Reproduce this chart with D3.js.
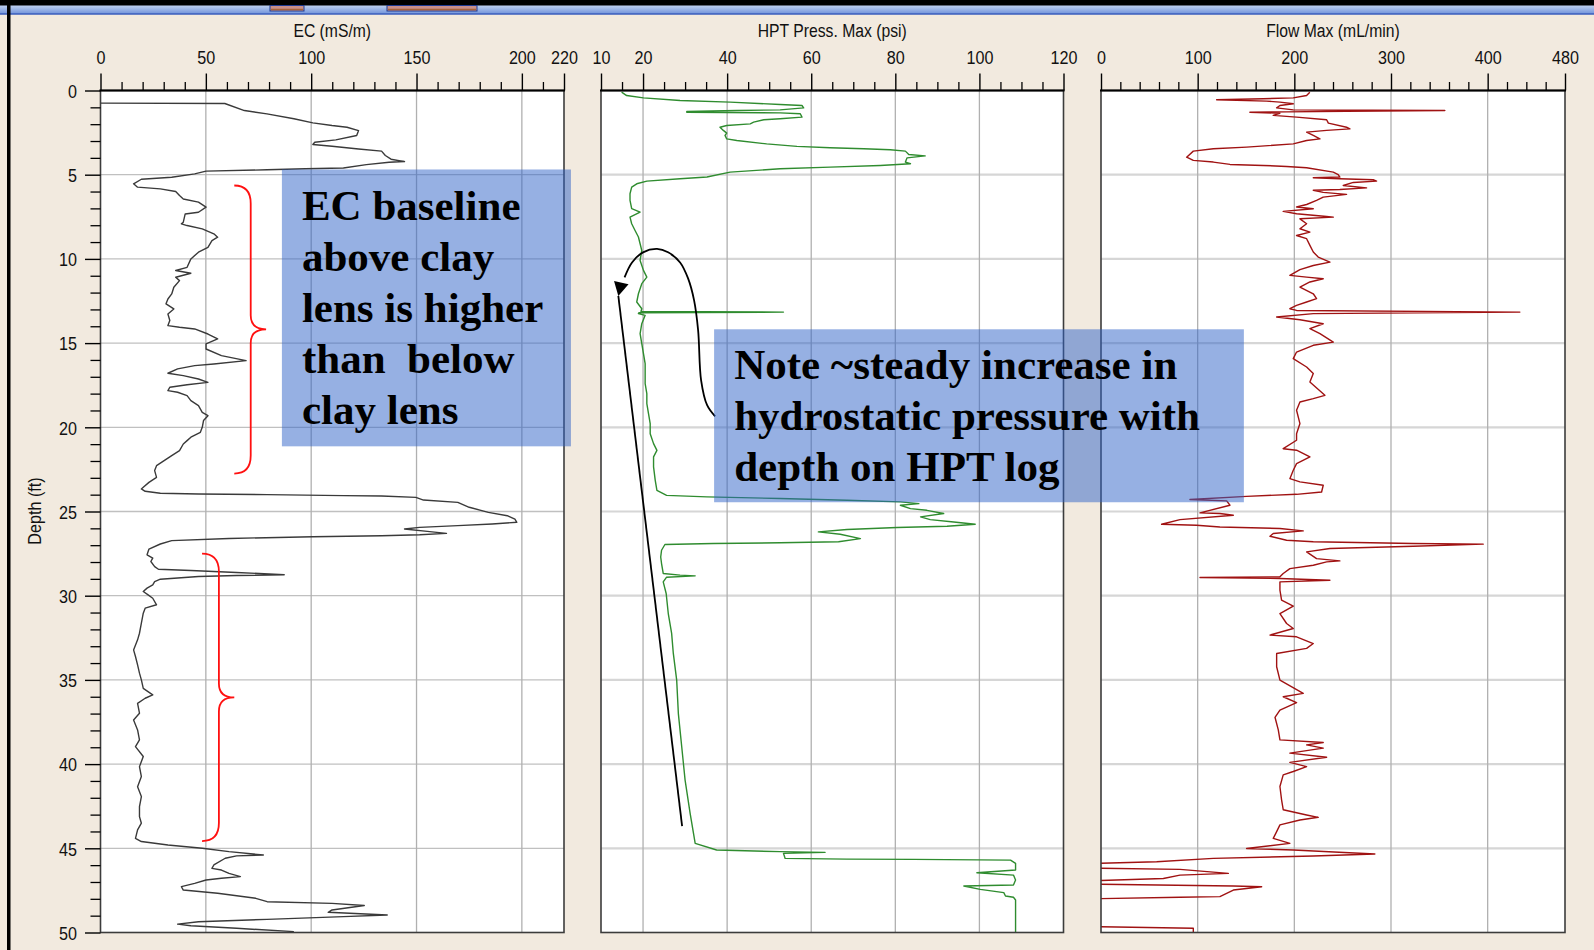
<!DOCTYPE html>
<html><head><meta charset="utf-8">
<script src="https://cdn.jsdelivr.net/npm/d3@7"></script>
<style>html,body{margin:0;padding:0;background:#F2EADF;overflow:hidden}</style>
</head><body>
<svg id="chart" width="1594" height="950"></svg>
<script>
// ---------------- DATA ----------------
const depthTicks = [0,5,10,15,20,25,30,35,40,45,50];
const ecTicks = [0,50,100,150,200,220];
const hptTicks = [10,20,40,60,80,100,120];
const flowTicks = [0,100,200,300,400,480];
const titles = ["EC (mS/m)","HPT Press. Max (psi)","Flow Max (mL/min)"];

// [depth ft, EC mS/m]
const ecProfile = [[0.75,0],[0.77,59],[1.19,68.3],[1.39,79],[1.68,91.8],[1.92,100.8],[2.08,109.9],[2.18,117],[2.38,122.5],[2.67,121.6],[2.93,111.7],[3.07,101.7],[3.21,100.8],[3.31,109.9],[3.47,122.5],[3.6,133.4],[3.86,135.2],[4.08,137.9],[4.22,144.3],[4.26,137],[4.4,126.2],[4.6,115.3],[4.65,97.2],[4.71,79.1],[4.79,50.1],[4.95,44.7],[5.15,33.8],[5.27,19.4],[5.54,15.7],[5.74,17.6],[5.84,28.4],[6.0,35.7],[6.24,37.5],[6.44,39.3],[6.63,46.5],[6.93,50.1],[7.23,46.5],[7.33,40.2],[7.82,39.3],[7.92,38.4],[8.02,41.1],[8.22,48.3],[8.51,53.8],[8.71,55.6],[8.91,52.9],[9.31,51],[9.6,46.5],[10.0,42.9],[10.5,41.1],[10.69,35.7],[10.85,42.9],[11.09,35.7],[11.29,37.5],[11.68,34.8],[12.08,33.8],[12.38,32],[12.67,31.1],[12.97,34.8],[13.27,32],[13.66,32.9],[13.96,32],[14.06,37.5],[14.16,44.7],[14.46,51],[14.75,55.6],[15.05,50.1],[15.35,50.1],[15.74,57.4],[16.04,69.1],[16.24,53.8],[16.34,44.7],[16.53,36.6],[16.79,32],[16.93,39.3],[17.13,46.5],[17.33,51],[17.47,41.1],[17.62,32.9],[17.82,32],[17.92,36.6],[18.12,41.1],[18.42,42.9],[18.71,46.5],[19.11,48.3],[19.31,51],[19.6,48.9],[20.0,48.3],[20.3,47.4],[20.59,42.9],[20.79,41.1],[20.99,39.3],[21.39,37.5],[21.68,33.8],[21.98,30.2],[22.28,26.6],[22.57,25.7],[22.97,26.6],[23.27,23],[23.56,20.3],[23.66,19.4],[23.8,21.2],[23.92,28.4],[23.96,46.5],[24.0,79.1],[24.06,115.3],[24.08,133.4],[24.16,149.7],[24.32,153.3],[24.46,169.6],[24.75,175],[25.05,184.1],[25.25,193.1],[25.45,196.7],[25.64,197.6],[25.74,185.9],[25.84,169.6],[25.94,151.5],[26.04,144.3],[26.18,155.1],[26.3,164.2],[26.38,151.5],[26.44,133.4],[26.5,100.8],[26.6,61],[26.73,33.8],[26.93,28.4],[27.23,23],[27.57,22.1],[27.77,24.8],[27.97,23.9],[28.27,25.7],[28.43,27.5],[28.5,42.9],[28.62,64.6],[28.76,87.2],[28.8,64.6],[28.86,46.5],[29.02,28.4],[29.16,25.7],[29.36,24.8],[29.55,22.1],[29.75,20.3],[29.95,22.6],[30.15,24.8],[30.54,26.6],[30.74,21.2],[31.04,20.3],[31.63,19.4],[32.23,18.5],[32.62,17.6],[33.22,15.7],[33.61,16.6],[34.11,17.6],[34.6,18.5],[35.0,19.4],[35.5,20.3],[35.89,24.8],[36.09,21.2],[36.39,17.6],[36.98,18.5],[37.38,15.7],[37.97,17.6],[38.56,18.5],[38.96,16.6],[39.55,20.3],[40.15,18.5],[40.74,19.4],[41.34,17.6],[41.93,19.4],[42.52,18.5],[43.12,18.5],[43.51,19.4],[43.91,17.6],[44.41,16.6],[44.6,19.4],[44.8,32],[45.0,48.3],[45.2,61],[45.4,77.3],[45.45,64.6],[45.59,59.2],[45.99,53.8],[46.19,52.9],[46.29,57.4],[46.49,61],[46.68,66.4],[46.78,57.4],[46.88,50.1],[47.08,44.7],[47.28,38.4],[47.48,39.3],[47.67,55.6],[47.97,73.7],[48.17,79.1],[48.27,109.9],[48.4,125.2],[48.66,109.9],[48.8,108.1],[48.96,136.1],[49.06,115.3],[49.22,79.1],[49.36,46.5],[49.5,36.6],[49.6,42.9],[49.75,64.6],[49.95,91.8]];

// [depth ft, HPT pressure psi]
const hptProfile = [[0.1,14.9],[0.3,16.1],[0.44,20.1],[0.59,28.8],[0.69,40.7],[0.83,52.6],[0.89,57.8],[1.03,58.2],[1.15,52.6],[1.19,42.3],[1.25,30.4],[1.29,30.4],[1.33,52.6],[1.38,57.4],[1.58,57.8],[1.68,52.6],[1.74,48.7],[1.88,46.3],[1.98,45.5],[2.08,39.9],[2.18,38.3],[2.37,39.1],[2.53,39.9],[2.67,39.5],[2.87,39.9],[2.97,42.3],[3.17,49.4],[3.32,56.6],[3.4,64.5],[3.46,72.5],[3.52,78.8],[3.6,82.4],[3.8,83.2],[3.88,87.1],[4.0,82.8],[4.25,82.4],[4.35,83.6],[4.45,76.4],[4.55,64.5],[4.65,52.6],[4.85,40.7],[5.14,35.2],[5.24,28.8],[5.38,20.9],[5.54,18.5],[5.74,17.3],[6.13,16.9],[6.53,16.9],[7.02,17.3],[7.22,19.3],[7.52,16.9],[7.91,17.3],[8.31,18.1],[8.7,18.9],[9.1,19.3],[9.5,19.7],[10.09,19.3],[10.68,20.1],[11.08,20.9],[11.47,19.7],[12.07,18.9],[12.56,18.5],[12.96,19.7],[13.12,19.5],[13.16,53.4],[13.2,19],[13.25,18.9],[13.35,20.5],[13.85,19.7],[14.44,19.3],[15.03,19.7],[15.63,20.1],[16.22,20.5],[16.81,20.5],[17.41,20.5],[18.0,20.9],[18.6,20.9],[19.19,21.3],[19.78,21.7],[20.38,21.7],[20.97,22.5],[21.37,23.3],[21.76,22.5],[22.35,22.5],[23.15,22.9],[23.74,23.3],[24.04,25.6],[24.13,35.2],[24.23,52.6],[24.33,68.5],[24.43,81.2],[24.53,85.6],[24.63,81.2],[24.83,83.6],[24.93,87.5],[25.12,91.5],[25.32,86],[25.48,88.3],[25.62,93.9],[25.76,99],[25.88,92.3],[25.95,80.4],[26.07,68.5],[26.21,61.7],[26.35,66.9],[26.61,71.7],[26.8,66.5],[26.86,52.6],[26.9,36.7],[26.96,25.2],[27.3,24.4],[27.7,24.2],[28.09,24.4],[28.68,24.8],[28.78,28.8],[28.82,32.4],[28.9,25.6],[29.18,24.8],[29.87,25.5],[31.06,26],[32.24,26.8],[33.43,27.2],[35.01,28],[37.0,28.4],[38.97,29.2],[40.95,30],[42.93,31.2],[44.12,32],[44.71,32.4],[45.1,37.5],[45.2,52.6],[45.24,63.3],[45.3,53.4],[45.6,53.8],[45.64,68.5],[45.66,84.4],[45.7,107.4],[45.9,108.6],[46.29,108.6],[46.45,99.4],[46.59,108.1],[46.88,108.6],[47.18,108.1],[47.24,96.3],[47.44,100.2],[47.63,105.8],[47.83,106.2],[47.91,108.1],[48.07,108.6],[50.0,108.6]];

// [depth ft, flow mL/min]  (negative = off-scale left)
const flowProfile = [[0.1,216],[0.3,212.7],[0.44,198.9],[0.49,167.9],[0.55,119.6],[0.63,171.3],[0.69,185.1],[0.79,198.9],[0.89,185.1],[1.03,181.7],[1.15,198.9],[1.19,355.7],[1.23,254],[1.27,192],[1.29,154],[1.35,185],[1.48,178.2],[1.58,202.3],[1.74,233.4],[1.94,235.2],[2.18,254],[2.28,257.5],[2.37,233.4],[2.47,212.7],[2.67,219.6],[2.87,226.5],[2.97,212.7],[3.17,198.9],[3.36,150.6],[3.46,116.2],[3.6,95.5],[3.96,88.6],[4.15,95.5],[4.25,116.2],[4.39,133.4],[4.45,167.9],[4.51,192],[4.59,212.7],[4.85,240.3],[4.99,245.4],[5.14,247.1],[5.18,219.6],[5.24,247.1],[5.3,281.6],[5.38,285.1],[5.46,261],[5.64,250.6],[5.78,274.7],[5.88,247.1],[5.92,219.6],[6.05,229.9],[6.17,254],[6.33,229.9],[6.53,223],[6.77,212.7],[6.92,202.3],[7.02,219.6],[7.18,188.5],[7.32,202.3],[7.48,233.4],[7.52,240.3],[7.62,205.8],[7.91,212.7],[8.21,205.8],[8.41,216.1],[8.61,202.3],[8.8,212.7],[9.2,216.1],[9.59,219.6],[9.89,224.7],[10.19,236.8],[10.39,219.6],[10.64,205.8],[10.98,195.4],[11.08,212.7],[11.18,229.9],[11.37,216.1],[11.67,205.8],[12.07,219.6],[12.36,223],[12.56,212.7],[12.76,202.3],[12.96,195.4],[13.06,202.3],[13.16,433.3],[13.25,219.6],[13.45,181.7],[13.61,205.8],[13.85,229.9],[14.14,216.1],[14.44,226.5],[14.94,240.3],[15.13,219.6],[15.53,202.3],[15.92,198.9],[16.42,212.7],[16.81,219.6],[17.31,216.1],[18.1,231.6],[18.3,219.6],[18.5,205.8],[18.99,202.3],[19.78,205.8],[20.38,202.3],[20.77,202.3],[21.27,188.5],[21.36,202.3],[21.76,216.1],[22.16,202.3],[22.55,198.9],[23.05,195.4],[23.24,205.8],[23.44,229.9],[23.84,228.2],[23.98,202.3],[24.1,150.6],[24.29,92],[24.37,130],[24.63,133.4],[25.08,102.4],[25.12,123],[25.22,136.9],[25.48,81.7],[25.76,62.7],[25.82,98.9],[25.92,123],[26.01,185.1],[26.15,209.2],[26.31,178.2],[26.47,174.8],[26.71,192],[26.8,219.6],[26.9,323],[26.94,395.4],[27.06,323],[27.2,236.8],[27.4,212.7],[27.8,223],[27.93,247.1],[27.99,233.4],[28.19,219.6],[28.39,195.4],[28.68,188.5],[28.88,185.1],[28.92,102.4],[28.98,185.1],[29.08,236.8],[29.18,185.1],[29.67,185.1],[30.26,186.8],[30.62,198.9],[31.06,185.1],[31.65,192],[31.95,198.9],[32.34,174.8],[32.44,202.3],[32.84,219.6],[33.13,212.7],[33.43,181.7],[34.22,181.7],[35.01,185.1],[35.8,209.2],[36.0,188.5],[36.35,202.3],[36.79,185.1],[37.22,180],[37.97,183.4],[38.56,185.1],[38.72,229.9],[38.86,212.7],[39.05,229.9],[39.35,195.4],[39.59,233.4],[39.9,195.4],[40.15,212.7],[40.44,198.9],[40.64,188.5],[41.33,185.1],[42.12,186.8],[42.71,188.5],[43.02,212.7],[43.16,224.7],[43.32,205.8],[43.61,185.1],[44.01,181.7],[44.41,178.2],[44.71,195.4],[45.01,150.6],[45.1,198.9],[45.34,283.3],[45.46,219.6],[45.6,116.2],[45.8,57.6],[45.95,-40],[46.15,-40],[46.25,81.7],[46.49,131.7],[46.59,81.7],[46.79,64.5],[46.99,-40],[47.1,-40],[47.24,136.9],[47.28,166.2],[47.48,136.9],[47.87,123],[47.91,81.7],[48.03,-40],[49.62,-40],[49.75,95.5],[50,95.5]];

// annotations (text)
const noteEC = ["EC baseline","above clay","lens is higher","than  below","clay lens"];
const noteHPT = ["Note ~steady increase in","hydrostatic pressure with","depth on HPT log"];

// ---------------- LAYOUT ----------------
const svg = d3.select("#chart");
const W = 1594, H = 950;
const y = d3.scaleLinear().domain([0,50]).range([90.5,932.5]);

const panels = [
  {key:"ec",   title:titles[0], ticks:ecTicks,   minor:10, x:d3.scaleLinear().domain([0,220]).range([100.5,564]),  data:ecProfile,   color:"#3a3a3a", hgrid:"#c0c0c0", hw:1.3},
  {key:"hpt",  title:titles[1], ticks:hptTicks,  minor:5,  x:d3.scaleLinear().domain([10,120]).range([601,1063.5]), data:hptProfile,  color:"#2f8c2f", hgrid:"#d6d6d6", hw:2.2},
  {key:"flow", title:titles[2], ticks:flowTicks, minor:20, x:d3.scaleLinear().domain([0,480]).range([1101,1565]),  data:flowProfile, color:"#a01212", hgrid:"#d6d6d6", hw:2.2}
];

// background & window chrome
svg.append("rect").attr("width",W).attr("height",H).attr("fill","#F2EADF");
const grad = svg.append("defs").append("linearGradient").attr("id","bluebar").attr("x1",0).attr("x2",0).attr("y1",0).attr("y2",1);
grad.append("stop").attr("offset","0%").attr("stop-color","#c4d4f2");
grad.append("stop").attr("offset","100%").attr("stop-color","#6f92da");
svg.append("rect").attr("x",0).attr("y",5).attr("width",W).attr("height",9).attr("fill","url(#bluebar)");
svg.append("line").attr("x1",0).attr("x2",W).attr("y1",14).attr("y2",14).attr("stroke","#3a5cbc").attr("stroke-width",1.5);
svg.append("rect").attr("x",0).attr("y",0).attr("width",W).attr("height",5.5).attr("fill","#000");
[[270,304],[387,477]].forEach(t=>{
  svg.append("rect").attr("x",t[0]).attr("y",5.5).attr("width",t[1]-t[0]).attr("height",5.5)
    .attr("fill","#c98f8a").attr("stroke","#1d3a94").attr("stroke-width",1);
  svg.append("line").attr("x1",t[0]+1).attr("x2",t[1]-1).attr("y1",9.5).attr("y2",9.5).attr("stroke","#a8643c").attr("stroke-width",1.5);
});
svg.append("rect").attr("x",7).attr("y",0).attr("width",3.5).attr("height",H).attr("fill","#000");

const defs = svg.select("defs");
const FONT = "'Liberation Sans', Arial, sans-serif";
const SX = 0.85;

panels.forEach((p,i)=>{
  const [x0,x1] = p.x.range();
  const [y0,y1] = y.range();
  const g = svg.append("g");
  g.append("rect").attr("x",x0).attr("y",y0).attr("width",x1-x0).attr("height",y1-y0).attr("fill","#fff");
  // horizontal grid
  g.selectAll(".hg").data(depthTicks.filter(d=>d>0&&d<50)).join("line")
    .attr("x1",x0).attr("x2",x1).attr("y1",d=>y(d)).attr("y2",d=>y(d))
    .attr("stroke",p.hgrid).attr("stroke-width",p.hw);
  // vertical grid
  const dom = p.x.domain();
  g.selectAll(".vg").data(p.ticks.filter(d=>d>dom[0]&&d<dom[1])).join("line")
    .attr("x1",d=>p.x(d)).attr("x2",d=>p.x(d)).attr("y1",y0).attr("y2",y1)
    .attr("stroke","#b0b0b0").attr("stroke-width",1.3);
  // clip
  defs.append("clipPath").attr("id","clip"+i).append("rect")
    .attr("x",x0).attr("y",y0).attr("width",x1-x0).attr("height",y1-y0);
  const line = d3.line().x(d=>p.x(d[1])).y(d=>y(d[0]));
  g.append("path").datum(p.data).attr("d",line).attr("clip-path",`url(#clip${i})`)
    .attr("fill","none").attr("stroke",p.color).attr("stroke-width",1.4).attr("stroke-linejoin","round");
  // border
  g.append("rect").attr("x",x0).attr("y",y0).attr("width",x1-x0).attr("height",y1-y0)
    .attr("fill","none").attr("stroke","#3c3c3c").attr("stroke-width",1.6);
  g.append("line").attr("x1",x0-1).attr("x2",x1+1).attr("y1",y0).attr("y2",y0).attr("stroke","#000").attr("stroke-width",2);

  // top axis: minor ticks
  const minorVals = d3.range(dom[0], dom[1]+0.001, p.minor).filter(v=>!p.ticks.includes(v));
  const axMinor = d3.axisTop(p.x).tickValues(minorVals).tickSize(8.5).tickFormat("");
  const gm = svg.append("g").attr("transform",`translate(0,${y0})`).call(axMinor);
  gm.select(".domain").remove();
  gm.selectAll("line").attr("stroke","#000").attr("stroke-width",1.3);
  // top axis: major ticks + labels
  const axMajor = d3.axisTop(p.x).tickValues(p.ticks).tickSize(17).tickFormat(d3.format("d"));
  const ga = svg.append("g").attr("transform",`translate(0,${y0})`).call(axMajor);
  ga.select(".domain").remove();
  ga.selectAll("line").attr("stroke","#000").attr("stroke-width",1.4);
  ga.selectAll("text").attr("y",null).attr("dy",null)
    .attr("transform",`translate(0,${63.8-y0}) scale(${SX},1)`)
    .attr("font-family",FONT).attr("font-size",19).attr("fill","#111").attr("text-anchor","middle");
  // title
  svg.append("text").attr("transform",`translate(${(x0+x1)/2},36.8) scale(${SX},1)`)
    .attr("text-anchor","middle").attr("font-family",FONT).attr("font-size",18.5).attr("fill","#111")
    .text(p.title);
});

// left depth axis
const p0x = panels[0].x.range()[0];
const minorDepth = d3.range(0,51,1).filter(v=>v%5!==0);
const gdm = svg.append("g").attr("transform",`translate(${p0x},0)`).call(d3.axisLeft(y).tickValues(minorDepth).tickSize(10).tickFormat(""));
gdm.select(".domain").remove();
gdm.selectAll("line").attr("stroke","#000").attr("stroke-width",1.3);
const gd = svg.append("g").attr("transform",`translate(${p0x},0)`).call(d3.axisLeft(y).tickValues(depthTicks).tickSize(15.5).tickFormat(d3.format("d")));
gd.select(".domain").remove();
gd.selectAll("line").attr("stroke","#000").attr("stroke-width",1.4);
gd.selectAll("text").attr("x",null).attr("dy",null)
  .attr("transform",`translate(-23.5,6.8) scale(${SX},1)`)
  .attr("font-family",FONT).attr("font-size",19).attr("fill","#111").attr("text-anchor","end");
svg.append("text").attr("transform",`translate(40.5,511) rotate(-90) scale(${SX},1)`)
  .attr("text-anchor","middle").attr("font-family",FONT).attr("font-size",19).attr("fill","#111")
  .text("Depth (ft)");

// ---------------- ANNOTATIONS ----------------
const xEC = panels[0].x, xH = panels[1].x;
// red braces (EC panel units)
function brace(xEnd, xMid, xTip, dTop, dMid, dBot){
  const a=xEC(xEnd), b=xEC(xMid), c=xEC(xTip), t=y(dTop), m=y(dMid), bt=y(dBot);
  const r=18, r2=14;
  const p = d3.path();
  p.moveTo(a,t); p.quadraticCurveTo(b,t,b,t+r);
  p.lineTo(b,m-r2); p.quadraticCurveTo(b,m,c,m);
  p.quadraticCurveTo(b,m,b,m+r2);
  p.lineTo(b,bt-r); p.quadraticCurveTo(b,bt,a,bt);
  svg.append("path").attr("d",p.toString()).attr("fill","none").attr("stroke","#ff1010").attr("stroke-width",1.8);
}
brace(63.5, 71.3, 78.6, 5.64, 14.18, 22.75);
brace(48.2, 56.2, 63.5, 27.5, 36.04, 44.57);

// black arrows (HPT panel units)
const curvePts = [[37.14,19.35],[35.24,18.69],[33.81,17.21],[33.1,14.24],[32.14,12.46],[30.71,11.16],[28.81,10.21],[25.95,9.61],[23.33,9.41],[20,9.61],[17.38,10.21],[15.6,11.1]];
svg.append("path").datum(curvePts)
  .attr("d", d3.line().x(d=>xH(d[0])).y(d=>y(d[1])).curve(d3.curveCatmullRom))
  .attr("fill","none").attr("stroke","#000").attr("stroke-width",1.8);
const head = [[13.1,11.31],[16.55,11.51],[14.12,12.2]];
svg.append("polygon").attr("points", head.map(d=>[xH(d[0]),y(d[1])].join(",")).join(" ")).attr("fill","#000");
const straight = [[14.12,12.2],[29.29,43.68]];
svg.append("path").datum(straight).attr("d", d3.line().x(d=>xH(d[0])).y(d=>y(d[1])))
  .attr("stroke","#000").attr("stroke-width",1.8).attr("fill","none");

// blue note boxes
function noteBox(xs, x0v, x1v, d0, d1, txX, txD, lines){
  svg.append("rect").attr("x",xs(x0v)).attr("y",y(d0)).attr("width",xs(x1v)-xs(x0v)).attr("height",y(d1)-y(d0))
    .attr("fill","rgb(45,98,200)").attr("fill-opacity",0.5);
  const t = svg.append("text").attr("font-family","'Liberation Serif','Times New Roman',serif")
    .attr("font-weight","bold").attr("font-size",43).attr("fill","#000").style("white-space","pre");
  lines.forEach((s,k)=>{
    t.append("tspan").attr("x",xs(txX)).attr("y",y(txD)+k*51).text(s);
  });
}
noteBox(xEC, 86.1, 223.3, 4.69, 21.13, 95.6, 7.67, noteEC);
noteBox(xH, 36.9, 162.9, 14.18, 24.45, 41.67, 17.11, noteHPT);
</script>
</body></html>
